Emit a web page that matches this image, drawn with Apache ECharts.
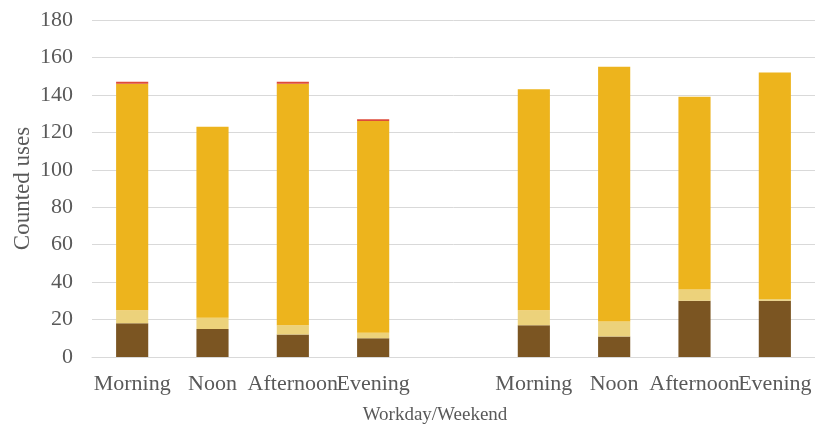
<!DOCTYPE html>
<html>
<head>
<meta charset="utf-8">
<script src="https://cdn.jsdelivr.net/npm/echarts@6/dist/echarts.min.js"></script>
<style>
  html, body { margin: 0; padding: 0; background: #fff; }
  #chart { width: 815px; height: 433px; }
</style>
</head>
<body>
<div id="chart"></div>
<script>
// Time-of-day slots: workday group, a spacer, then weekend group
const categories = ['Morning', 'Noon', 'Afternoon', 'Evening', '', 'Morning', 'Noon', 'Afternoon', 'Evening'];
const yTicks = [0, 20, 40, 60, 80, 100, 120, 140, 160, 180];

// Stacked counts per slot (null = spacer column)
const seriesDark  = [18, 15, 12, 10, null, 17, 11, 30, 30];
const seriesLight = [7, 6, 5, 3, null, 8, 8, 6, 1];
const seriesGold  = [121, 102, 129, 113, null, 118, 136, 103, 121];
const seriesRed   = [1, 0, 1, 1, null, 0, 0, 0, 0];

const colors = {
  dark: '#7B5522',
  light: '#ECD27B',
  gold: '#EDB41D',
  red: '#DE4B3A'
};
const textColor = '#595959';
const fontFamily = '"Liberation Serif", "Times New Roman", serif';

const chart = echarts.init(document.getElementById('chart'));

function barSeries(name, data, color) {
  return {
    name: name,
    type: 'bar',
    stack: 'uses',
    data: data,
    barWidth: '40%',
    itemStyle: { color: color },
    emphasis: { disabled: true }
  };
}

chart.setOption({
  animation: false,
  backgroundColor: '#fff',
  grid: {
    left: 92, right: 0, top: 20, bottom: 76,
    containLabel: false,
    outerBoundsMode: 'none'
  },
  xAxis: {
    type: 'category',
    data: categories,
    name: 'Workday/Weekend',
    nameLocation: 'middle',
    nameGap: 49,
    nameMoveOverlap: false,
    nameTextStyle: {
      color: textColor, fontFamily: fontFamily, fontSize: 19,
      padding: [0, 37, 0, 0]
    },
    axisLine: { show: true, lineStyle: { color: '#D9D9D9', width: 1 } },
    axisTick: { show: false },
    axisLabel: {
      interval: 0, hideOverlap: false,
      color: textColor, fontFamily: fontFamily, fontSize: 22, margin: 16
    }
  },
  yAxis: {
    type: 'value',
    min: yTicks[0],
    max: yTicks[yTicks.length - 1],
    interval: yTicks[1] - yTicks[0],
    name: 'Counted uses',
    nameLocation: 'middle',
    nameGap: 58,
    nameRotate: 90,
    nameMoveOverlap: false,
    nameTextStyle: { color: textColor, fontFamily: fontFamily, fontSize: 23 },
    axisLine: { show: false },
    axisTick: { show: false },
    splitLine: { lineStyle: { color: '#D9D9D9', width: 1 } },
    axisLabel: { color: textColor, fontFamily: fontFamily, fontSize: 22, margin: 19 }
  },
  series: [
    barSeries('Low', seriesDark, colors.dark),
    barSeries('Medium', seriesLight, colors.light),
    barSeries('High', seriesGold, colors.gold),
    barSeries('Very high', seriesRed, colors.red)
  ]
});
</script>
</body>
</html>
